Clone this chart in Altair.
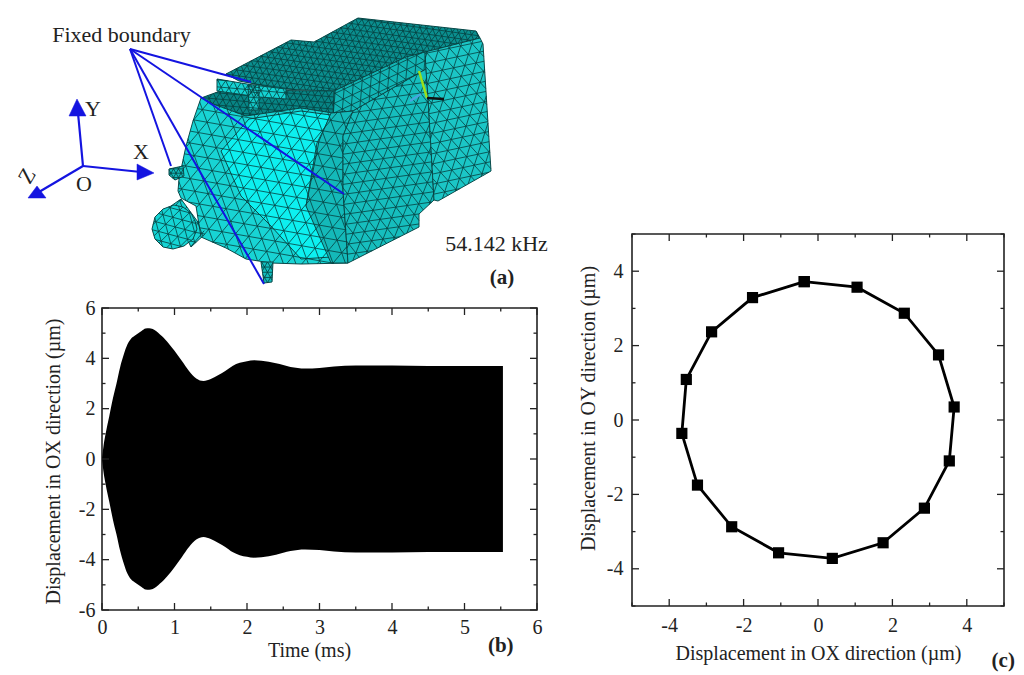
import math
import pandas as pd
import altair as alt

FONT = "Liberation Serif"
INK = "#222222"
BLUE = "#1414e0"

# ---------- panel (b) envelope ----------
env_t = [0, 0.02, 0.05, 0.1, 0.15, 0.2, 0.25, 0.3, 0.35, 0.4, 0.45, 0.5, 0.55, 0.6, 0.65, 0.7, 0.75, 0.8, 0.85, 0.9,
         1.0, 1.1, 1.2, 1.3, 1.4, 1.5, 1.6, 1.7, 1.8, 1.9, 2.0, 2.1, 2.2, 2.4, 2.6, 2.8, 3.0, 3.2, 3.5, 4.0, 4.5, 5.0, 5.53]
env_a = [0, 0.5, 1.0, 1.7, 2.4, 3.0, 3.65, 4.15, 4.55, 4.78, 4.9, 5.0, 5.1, 5.19, 5.2, 5.17, 5.08, 4.95, 4.82, 4.66,
         4.3, 3.9, 3.5, 3.2, 3.1, 3.18, 3.33, 3.5, 3.7, 3.82, 3.88, 3.92, 3.9, 3.8, 3.66, 3.6, 3.62, 3.68, 3.72, 3.72, 3.7, 3.7, 3.7]
env_low = [-a for a in env_a]

# ---------- panel (c) orbit ----------
orbit_x = [-0.37, 1.05, 2.32, 3.24, 3.66, 3.53, 2.86, 1.75, 0.385, -1.06, -2.32, -3.24, -3.66, -3.54, -2.86, -1.76, -0.37]
orbit_y = [3.72, 3.57, 2.87, 1.75, 0.35, -1.10, -2.37, -3.30, -3.72, -3.57, -2.87, -1.75, -0.36, 1.09, 2.37, 3.29, 3.72]

# ---------- panel (a) illustration, read in picture pixels ----------
TOP = [(225, 73), (290, 39), (313, 41), (357, 17), (475, 30), (479, 37), (405, 56), (333, 90), (280, 88), (238, 80)]
STRIP = [(333, 90), (405, 56), (424, 51), (425, 68), (352, 110), (332, 112)]
BAND = [(200, 97), (222, 89), (333, 90), (332, 112), (300, 107), (245, 115), (215, 105)]
NECK = [(170, 205), (180, 198), (205, 232), (190, 246)]
CONE = [(200, 97), (215, 104), (245, 115), (300, 107), (332, 112), (352, 110), (342, 135), (342, 190), (347, 262),
        (300, 263), (270, 262), (245, 258), (225, 247), (200, 236), (195, 205), (180, 197), (177, 190), (178, 178), (185, 145), (192, 120)]
BRIGHT = [(248, 118), (300, 110), (330, 114), (316, 142), (305, 205), (345, 255), (300, 258), (270, 225), (240, 195), (220, 150)]
DARKSIDE = [(318, 140), (330, 112), (352, 110), (342, 135), (342, 190), (347, 262), (330, 262), (305, 205)]
FRONT = [(352, 110), (425, 68), (427, 97), (433, 199), (418, 213), (418, 226), (347, 262), (342, 190), (342, 135)]
RIGHT = [(424, 51), (479, 37), (482, 43), (490, 170), (437, 200), (433, 199), (427, 97), (425, 68)]
BOSS = [(173, 204), (182, 206), (190, 212), (194, 220), (196, 228), (192, 238), (183, 245), (172, 248), (162, 246),
        (154, 238), (151, 228), (154, 216), (162, 208)]
TAB_L = [(168, 168), (182, 165), (183, 175), (174, 179), (168, 174)]
TAB_B = [(260, 261), (272, 261), (271, 281), (263, 282)]
TAB_U = [(216, 78), (252, 84), (285, 88), (285, 98), (258, 96), (216, 90)]
TAB_U2 = [(247, 84), (258, 84), (258, 109), (248, 109)]

BODY = [("#0a8f8f", TOP, 6.5, 8), ("#12b5b5", STRIP, 10, -25), ("#078585", BAND, 7, 5), ("#18d4d4", NECK, 11, 10), ("#18d4d4", CONE, 13.5, 10),
        ("#0df0f0", BRIGHT, 0, 0), ("#14b9b9", DARKSIDE, 0, 0), ("#16bebe", FRONT, 11.5, -8), ("#1bc6c6", RIGHT, 11.5, -12)]
DETAILS = [("#14d2d2", TAB_U, 8, 5), ("#14c8c8", TAB_U2, 6, 5), ("#12bcbc", TAB_L, 5, 0),
           ("#12bcbc", TAB_B, 6, 0), ("#14d4d4", BOSS, 10, 15)]

BLUE_FROM = (129, 48)
BLUE_TO = [(250, 81), (343, 193), (263, 283), (170, 165)]
AXIS_O = (82, 165)
AXIS_ENDS = [(77, 112), (140, 171), (38, 191)]
HEADS = [[(76, 98), (68, 115), (85, 115)], [(153, 172), (136, 163), (136, 179)], [(27, 197), (45, 197), (36, 185)]]

LABEL_TXT = ["Fixed boundary", "Y", "X", "O", "Z", "54.142 kHz"]
LABEL_X = [120.5, 92, 140, 83, 26, 495.5]
LABEL_Y = [34, 108, 151, 183, 175, 243]
LABEL_ANG = [0, 0, 0, 0, 300, 0]


def inside(p, poly):
    x, y = p
    c = False
    for i in range(len(poly)):
        x1, y1 = poly[i]
        x2, y2 = poly[(i + 1) % len(poly)]
        if (y1 > y) != (y2 > y) and x < (x2 - x1) * (y - y1) / (y2 - y1) + x1:
            c = not c
    return c


def clip(a, b, poly):
    ia, ib = inside(a, poly), inside(b, poly)
    if not ia and not ib:
        return None
    if ia and ib:
        return a, b
    if ib:
        a, b = b, a
    lo, hi = 0.0, 1.0
    for _ in range(12):
        m = (lo + hi) / 2
        if inside((a[0] + (b[0] - a[0]) * m, a[1] + (b[1] - a[1]) * m), poly):
            lo = m
        else:
            hi = m
    return a, (a[0] + (b[0] - a[0]) * lo, a[1] + (b[1] - a[1]) * lo)


def mesh(poly, cell, ang):
    """Triangulated wireframe for one face of the drawing."""
    rows = []
    if not cell:
        return rows
    t = math.radians(ang)
    u = (cell * math.cos(t), cell * math.sin(t))
    v = (cell * math.cos(t + math.pi / 3), cell * math.sin(t + math.pi / 3))
    w = (v[0] - u[0], v[1] - u[1])
    cx = sum(p[0] for p in poly) / len(poly)
    cy = sum(p[1] for p in poly) / len(poly)
    n = int(200 / cell) + 2
    for i in range(-n, n):
        for j in range(-n, n):
            a = (cx + i * u[0] + j * v[0], cy + i * u[1] + j * v[1])
            for d in (u, v, w):
                s = clip(a, (a[0] + d[0], a[1] + d[1]), poly)
                if s:
                    rows.append({"x": s[0][0], "y": s[0][1], "x2": s[1][0], "y2": s[1][1]})
    return rows


def faces(items):
    rows = []
    for k, item in enumerate(items):
        for o, (x, y) in enumerate(item[1]):
            rows.append({"x": x, "y": y, "f": item[0], "k": k, "o": o})
    return pd.DataFrame(rows)


def wires(items):
    rows = []
    for it in items:
        rows += mesh(it[1], it[2], it[3])
    return pd.DataFrame(rows)


W_L, H_A, H_B, W_C = 435, 299, 302, 372
px = alt.X("x:Q", axis=None, scale=alt.Scale(domain=[101, 536], nice=False, zero=False))
py = alt.Y("y:Q", axis=None, scale=alt.Scale(domain=[307, 8], nice=False, zero=False))


def face_layer(items):
    return alt.Chart(faces(items)).mark_line(interpolate="linear-closed", stroke="#0a4a4a", strokeWidth=1, clip=False).encode(
        x=px, y=py, fill=alt.Fill("f:N", scale=None), detail="k:N", order="o:Q")


def wire_layer(items, color="#063f3f", width=0.8):
    return alt.Chart(wires(items)).mark_rule(stroke=color, strokeWidth=width).encode(x=px, y=py, x2="x2:Q", y2="y2:Q")


def seg_df(frm, tos):
    return pd.DataFrame([{"x": frm[0], "y": frm[1], "x2": t[0], "y2": t[1]} for t in tos])


anchor = alt.Chart(pd.DataFrame({"x": [8], "y": [8], "x2": [9], "y2": [8]})).mark_rule(stroke="white", strokeWidth=1).encode(
    x=px, y=py, x2="x2:Q", y2="y2:Q")
blue = alt.Chart(seg_df(BLUE_FROM, BLUE_TO)).mark_rule(stroke=BLUE, strokeWidth=2).encode(x=px, y=py, x2="x2:Q", y2="y2:Q")
axes_a = alt.Chart(seg_df(AXIS_O, AXIS_ENDS)).mark_rule(stroke=BLUE, strokeWidth=2.2).encode(x=px, y=py, x2="x2:Q", y2="y2:Q")
heads = alt.Chart(faces([(BLUE, h) for h in HEADS])).mark_line(interpolate="linear-closed", stroke=BLUE, strokeWidth=0.5).encode(
    x=px, y=py, fill=alt.Fill("f:N", scale=None), detail="k:N", order="o:Q")
triad = alt.Chart(pd.DataFrame([
    {"x": 418, "y": 70, "x2": 426, "y2": 97, "c": "#9be01a"},
    {"x": 409, "y": 100, "x2": 420, "y2": 93, "c": "#4aa3df"},
    {"x": 426, "y": 97, "x2": 443, "y2": 98, "c": "#111111"},
])).mark_rule(strokeWidth=2.5).encode(x=px, y=py, x2="x2:Q", y2="y2:Q", color=alt.Color("c:N", scale=None))
labels = alt.Chart(pd.DataFrame({"x": LABEL_X, "y": LABEL_Y, "t": LABEL_TXT, "a": LABEL_ANG})).mark_text(
    font=FONT, fontSize=22, color=INK, align="center", baseline="middle").encode(x=px, y=py, text="t:N", angle=alt.Angle("a:Q", scale=None))
tag_a = alt.Chart(pd.DataFrame({"x": [501], "y": [277], "t": ["(a)"]})).mark_text(
    font=FONT, fontSize=21, fontWeight="bold", color=INK).encode(x=px, y=py, text="t:N")

panel_a = alt.layer(anchor, face_layer(BODY), wire_layer(BODY), face_layer(DETAILS), wire_layer(DETAILS), triad,
                    blue, axes_a, heads, labels, tag_a).properties(width=W_L, height=H_A)


def box_ticks(xt, yt, xs, ys, W, H, long_=7):
    """Inward ticks on all four sides, drawn through the panel's scales."""
    out = []
    for vals, L in ((xt, long_), (xs, long_ / 2)):
        d = pd.DataFrame({"v": vals})
        for a, b in ((H, H - L), (0, L)):
            out.append(alt.Chart(d).mark_rule(stroke=INK, strokeWidth=1.3).encode(
                x=alt.X("v:Q"), y=alt.value(a), y2=alt.value(b)))
    for vals, L in ((yt, long_), (ys, long_ / 2)):
        d = pd.DataFrame({"v": vals})
        for a, b in ((0, L), (W, W - L)):
            out.append(alt.Chart(d).mark_rule(stroke=INK, strokeWidth=1.3).encode(
                y=alt.Y("v:Q"), x=alt.value(a), x2=alt.value(b)))
    return out


def ax(title, vals, **kw):
    return alt.Axis(title=title, values=vals, ticks=False, domain=False, grid=False, labelFont=FONT, labelFontSize=20,
                    labelColor=INK, labelOverlap=False, labelFlush=False, labelBound=False, titleFont=FONT, titleFontSize=20,
                    titleFontWeight="normal", titleColor=INK, labelExpr="'' + datum.value", **kw)


frame = alt.ViewConfig(stroke=INK, strokeWidth=1.6)

# panel (b)
XB, YB = [0, 1, 2, 3, 4, 5, 6], [-6, -4, -2, 0, 2, 4, 6]
XBm = [0.5, 1.5, 2.5, 3.5, 4.5, 5.5]
YBm = [-5, -3, -1, 1, 3, 5]
b_df = pd.DataFrame({"t": env_t, "hi": env_a, "lo": env_low})
b_area = alt.Chart(b_df).mark_area(color="black", interpolate="monotone").encode(
    x=alt.X("t:Q", scale=alt.Scale(domain=[0, 6], nice=False),
            axis=ax("Time (ms)", XB, labelPadding=7, titleX=207, titleY=40, titleBaseline="middle")),
    y=alt.Y("hi:Q", scale=alt.Scale(domain=[-6, 6], nice=False),
            axis=ax("Displacement in OX direction (µm)", YB, labelPadding=7, titleX=-49, titleY=153, titleBaseline="middle")),
    y2="lo:Q")
tag_b = alt.Chart(pd.DataFrame({"t": [5.5], "v": [-6.0], "s": ["(b)"]})).mark_text(
    font=FONT, fontSize=21, fontWeight="bold", color=INK, dy=36).encode(x="t:Q", y="v:Q", text="s:N")
panel_b = alt.layer(b_area, *box_ticks(XB, YB, XBm, YBm, W_L, H_B), tag_b).properties(width=W_L, height=H_B, view=frame)

# panel (c)
CT, CM = [-4, -2, 0, 2, 4], [-5, -3, -1, 1, 3, 5]
c_df = pd.DataFrame({"x": orbit_x, "y": orbit_y, "o": list(range(len(orbit_x)))})
xc = alt.X("x:Q", scale=alt.Scale(domain=[-5, 5], nice=False),
           axis=ax("Displacement in OX direction (µm)", CT, labelPadding=9, titleX=186, titleY=47, titleBaseline="middle"))
yc = alt.Y("y:Q", scale=alt.Scale(domain=[-5, 5], nice=False),
           axis=ax("Displacement in OY direction (µm)", CT, labelPadding=9, titleX=-44, titleY=174, titleBaseline="middle"))
c_line = alt.Chart(c_df).mark_line(color="black", strokeWidth=2.8).encode(x=xc, y=yc, order="o:Q")
c_pts = alt.Chart(c_df).mark_point(shape="square", filled=True, color="black", size=125, opacity=1).encode(x=xc, y=yc)
tag_c = alt.Chart(pd.DataFrame({"x": [4.98], "y": [-5.0], "s": ["(c)"]})).mark_text(
    font=FONT, fontSize=21, fontWeight="bold", color=INK, dy=55).encode(x="x:Q", y="y:Q", text="s:N")
panel_c = alt.layer(c_line, c_pts, *box_ticks(CT, CT, CM, CM, W_C, W_C), tag_c).properties(width=W_C, height=W_C, view=frame)

spacer = alt.Chart(pd.DataFrame({"x": [0]})).mark_point(opacity=0).encode(x=alt.value(10), y=alt.value(10)).properties(width=W_C, height=225)

left = alt.vconcat(panel_a, panel_b, spacing=0, bounds="flush")
right = alt.vconcat(spacer, panel_c, spacing=0, bounds="flush")
chart = alt.hconcat(left, right, spacing=29).properties(padding=0).configure_view(stroke=None)
chart = chart.resolve_scale(x="independent", y="independent")
chart.save("out.html", embed_options={"renderer": "svg", "actions": False})
